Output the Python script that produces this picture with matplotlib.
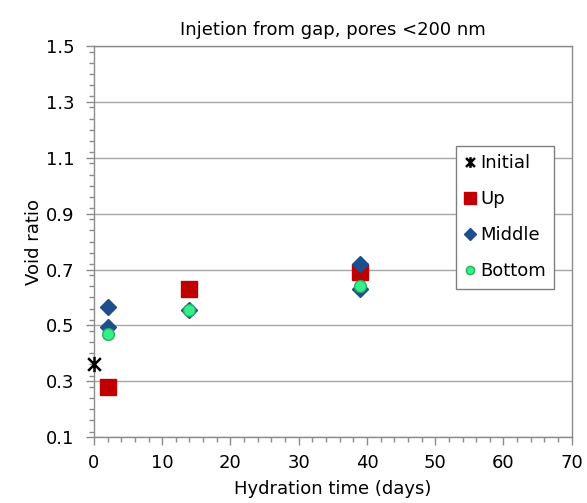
import matplotlib
matplotlib.use("Agg")
import matplotlib.pyplot as plt
from matplotlib.path import Path
from matplotlib.ticker import MultipleLocator, FixedLocator

plt.rcParams['font.family'] = ['DejaVu Sans']

# Data
initial_x = [0]
initial_y = [0.36]
up_x = [2, 14, 39]
up_y = [0.28, 0.63, 0.69]
middle_x = [2, 2, 14, 39, 39]
middle_y = [0.565, 0.495, 0.555, 0.72, 0.63]
bottom_x = [2, 14, 39]
bottom_y = [0.47, 0.555, 0.64]

xticks = [0, 10, 20, 30, 40, 50, 60, 70]
yticks = [0.1, 0.3, 0.5, 0.7, 0.9, 1.1, 1.3, 1.5]

star = Path([(-1, -1), (1, 1), (-1, 1), (1, -1), (0, -1.2), (0, 1.2)],
            [Path.MOVETO, Path.LINETO, Path.MOVETO, Path.LINETO, Path.MOVETO, Path.LINETO])

fig = plt.figure(figsize=(5.87, 5.03), dpi=100)
ax = fig.add_axes([0.160, 0.131, 0.814, 0.7775])

ax.plot(initial_x, initial_y, linestyle='none', marker=star, markersize=11,
        markeredgecolor='black', markeredgewidth=1.8, color='black', label='Initial', zorder=5, clip_on=False)
ax.plot(up_x, up_y, linestyle='none', marker='s', markersize=11.5,
        markerfacecolor='#C00000', markeredgecolor='#C00000', label='Up', zorder=3)
ax.plot(middle_x, middle_y, linestyle='none', marker='D', markersize=8.2,
        markerfacecolor='#1F4E8C', markeredgecolor='#1F4E8C', label='Middle', zorder=4)
ax.plot(bottom_x, bottom_y, linestyle='none', marker='o', markersize=8.5,
        markerfacecolor='#33F08A', markeredgecolor='#2AAE5E', markeredgewidth=1.0, label='Bottom', zorder=5)

ax.set_xlim(0, 70)
ax.set_ylim(0.1, 1.5)
ax.xaxis.set_major_locator(FixedLocator(xticks))
ax.yaxis.set_major_locator(FixedLocator(yticks))
ax.xaxis.set_minor_locator(MultipleLocator(2))
ax.yaxis.set_minor_locator(MultipleLocator(0.04))
ax.set_yticklabels([f"{v:.1f}" for v in yticks])
ax.set_xticklabels([str(v) for v in xticks])

ax.grid(axis='y', which='major', color='#A6A6A6', linewidth=1.0)
ax.set_axisbelow(True)
for s in ax.spines.values():
    s.set_color('#8C8C8C')
    s.set_linewidth(1.0)

ax.tick_params(axis='both', which='major', direction='out', length=6, color='#8C8C8C',
               labelsize=13, width=1.0)
ax.tick_params(axis='both', which='minor', direction='out', length=3.5, color='#8C8C8C', width=1.0)
ax.tick_params(axis='y', pad=8)
ax.tick_params(axis='x', pad=6)

ax.set_title('Injetion from gap, pores <200 nm', fontsize=13, pad=8)
ax.set_xlabel('Hydration time (days)', fontsize=13, labelpad=6)
ax.set_ylabel('Void ratio', fontsize=13, labelpad=2)

leg = ax.legend(loc='upper left', bbox_to_anchor=(0.757, 0.744), fontsize=13,
                frameon=True, fancybox=False, edgecolor='#808080', framealpha=1,
                handlelength=0.7, handletextpad=0.2, borderpad=0.45, labelspacing=1.0,
                borderaxespad=0, markerscale=0.7)
leg.get_frame().set_linewidth(1.0)

fig.savefig('out.png', dpi=100)
